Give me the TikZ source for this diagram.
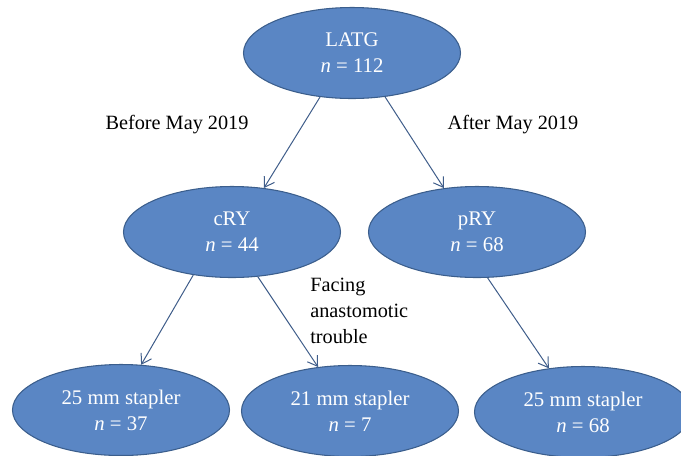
\documentclass[tikz,border=0pt]{standalone}
\usepackage{fontspec}
\setmainfont{Liberation Serif}
\usetikzlibrary{shapes.geometric,arrows.meta}
\definecolor{ellfill}{HTML}{5A86C4}
\definecolor{elldraw}{HTML}{3B5E8C}
\definecolor{arrowcol}{HTML}{3F5D8A}
\begin{document}
\begin{tikzpicture}[x=0.75pt,y=-0.75pt,
  oval/.style={ellipse, draw=elldraw, line width=0.8pt, fill=ellfill,
    minimum width=162.75pt, minimum height=68.25pt, inner sep=0pt,
    text=white, align=center, font=\fontsize{15.6}{19.5}\selectfont},
  conn/.style={draw=arrowcol, line width=0.75pt, -{Straight Barb[length=7pt,width=9pt]}},
  lbl/.style={text=black, font=\fontsize{15.2}{19.5}\selectfont, inner sep=0pt}]
\useasboundingbox (0,0) rectangle (681,455);
\node[oval] (latg) at (352,53) {LATG\\\textit{n} = 112};
\node[oval] (cry) at (232,232) {cRY\\\textit{n} = 44};
\node[oval] (pry) at (477,232) {pRY\\\textit{n} = 68};
\node[oval] (s1) at (121,410) {25 mm stapler\\\textit{n} = 37};
\node[oval] (s2) at (350,411) {21 mm stapler\\\textit{n} = 7};
\node[oval] (s3) at (583,412) {25 mm stapler\\\textit{n} = 68};
\node[lbl] (before) at (177,125) {Before May 2019};
\node[lbl] (after) at (513,125) {After May 2019};
\node[lbl, align=left, anchor=west] (facing) at (310,311) {Facing\\anastomotic\\trouble};
\draw[conn] (latg.234) -- (cry.54);
\draw[conn] (latg.307.5) -- (pry.127);
\draw[conn] (cry.228) -- (s1.66.6);
\draw[conn] (cry.300.6) -- (s2.126);
\draw[conn] (pry.283.5) -- (s3.128.5);
\end{tikzpicture}
\end{document}
